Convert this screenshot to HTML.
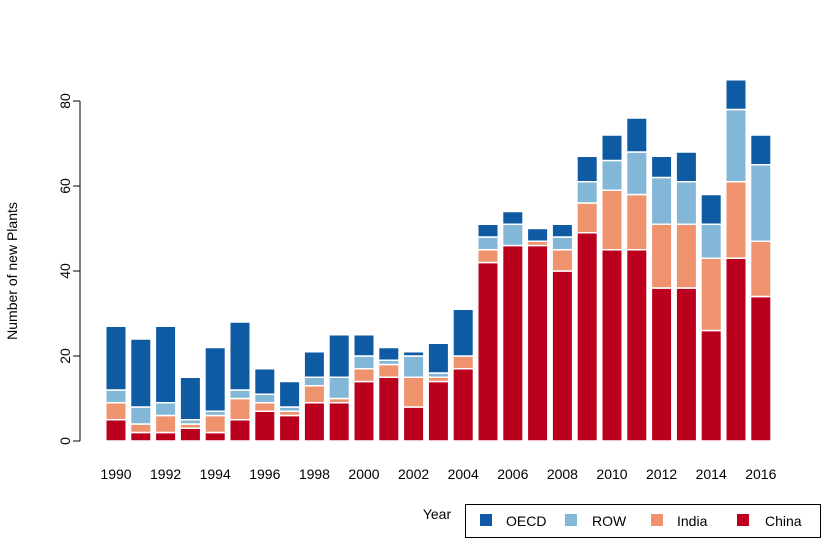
<!DOCTYPE html>
<html><head><meta charset="utf-8"><style>
body{margin:0;background:#fff}
svg{font-family:"Liberation Sans",Arial,sans-serif}
</style></head><body>
<svg id="chart" width="838" height="543" xmlns="http://www.w3.org/2000/svg">
<g id="bars"></g>
<g id="axes"></g>
<text transform="translate(17,271) rotate(-90)" text-anchor="middle" font-size="14">Number of new Plants</text>
<text x="437" y="519" text-anchor="middle" font-size="14">Year</text>
<g>
<rect x="465.5" y="504.5" width="355" height="33" fill="#fff" stroke="#000"/>
<g><rect x="480" y="514" width="12" height="12" fill="#0e5ba3"/><text x="506" y="526" font-size="14">OECD</text></g>
<g><rect x="565" y="514" width="12" height="12" fill="#82b7d7"/><text x="592" y="526" font-size="14">ROW</text></g>
<g><rect x="651" y="514" width="12" height="12" fill="#ef936f"/><text x="677" y="526" font-size="14">India</text></g>
<g><rect x="737" y="514" width="12" height="12" fill="#bb001e"/><text x="765" y="526" font-size="14">China</text></g>
</g>
</svg>
<script>
const years=[1990,1991,1992,1993,1994,1995,1996,1997,1998,1999,2000,2001,2002,2003,2004,2005,2006,2007,2008,2009,2010,2011,2012,2013,2014,2015,2016];
const china=[5,2,2,3,2,5,7,6,9,9,14,15,8,14,17,42,46,46,40,49,45,45,36,36,26,43,34];
const india=[4,2,4,1,4,5,2,1,4,1,3,3,7,1,3,3,0,1,5,7,14,13,15,15,17,18,13];
const row=[3,4,3,1,1,2,2,1,2,5,3,1,5,1,0,3,5,0,3,5,7,10,11,10,8,17,18];
const oecd=[15,16,18,10,15,16,6,6,6,10,5,3,1,7,11,3,3,3,3,6,6,8,5,7,7,7,7];
const yTicks=[0,20,40,60,80];
const xLabels=[1990,1992,1994,1996,1998,2000,2002,2004,2006,2008,2010,2012,2014,2016];
const series=[["china",china,"#bb001e"],["india",india,"#ef936f"],["row",row,"#82b7d7"],["oecd",oecd,"#0e5ba3"]];
const NS="http://www.w3.org/2000/svg";
const y=v=>441-v*4.25;
const xc=i=>116+i*24.8;
const bw=20.5;
const gb=document.getElementById('bars'),ga=document.getElementById('axes');
years.forEach((yr,i)=>{
  let base=0;
  series.forEach(([nm,arr,col])=>{
    const v=arr[i];
    const r=document.createElementNS(NS,'rect');
    
    
    r.setAttribute('x',xc(i)-bw/2);r.setAttribute('width',bw);
    r.setAttribute('y',y(base+v));r.setAttribute('height',Math.max(0,v*4.25));
    r.setAttribute('fill',col);r.setAttribute('stroke','#fff');r.setAttribute('stroke-width','1.5');
    gb.appendChild(r);base+=v;
  });
});
const ax=document.createElementNS(NS,'line');


ax.setAttribute('x1',80);ax.setAttribute('x2',80);ax.setAttribute('y1',y(80));ax.setAttribute('y2',y(0));ax.setAttribute('stroke','#000');
ga.appendChild(ax);
yTicks.forEach(t=>{
  const l=document.createElementNS(NS,'line');
  
  
  l.setAttribute('x1',73);l.setAttribute('x2',80);l.setAttribute('y1',y(t));l.setAttribute('y2',y(t));l.setAttribute('stroke','#000');
  ga.appendChild(l);
  const tx=document.createElementNS(NS,'text');
  
  
  tx.setAttribute('transform','translate(70,'+y(t)+') rotate(-90)');tx.setAttribute('text-anchor','middle');tx.setAttribute('font-size','14');
  tx.textContent=t;ga.appendChild(tx);
});
xLabels.forEach(yr=>{
  const tx=document.createElementNS(NS,'text');
  
  
  tx.setAttribute('x',xc(years.indexOf(yr)));tx.setAttribute('y',479);tx.setAttribute('text-anchor','middle');tx.setAttribute('font-size','14');
  tx.textContent=yr;ga.appendChild(tx);
});
</script>
</body></html>
